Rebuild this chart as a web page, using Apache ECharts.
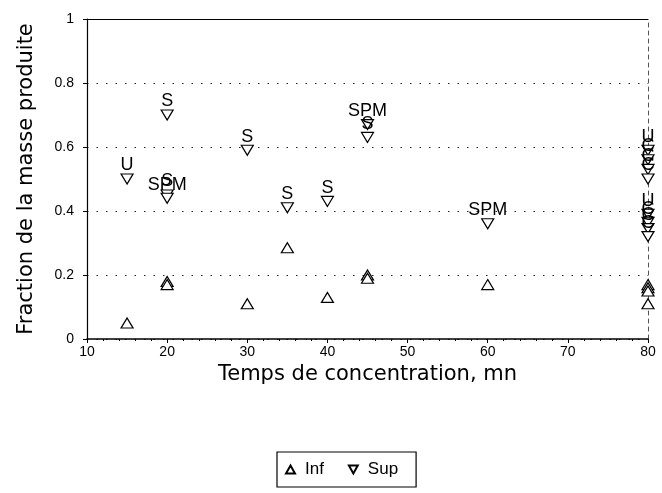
<!DOCTYPE html>
<html>
<head>
<meta charset="utf-8">
<script src="https://cdn.jsdelivr.net/npm/echarts@6/dist/echarts.min.js"></script>
<style>
html,body{margin:0;padding:0;background:#fff;}
#c{width:662px;height:493px;}
</style>
</head>
<body>
<div id="c"></div>
<script>
// Inf (up triangles)
const infX = [15, 20, 20, 30, 35, 40, 45, 45, 60, 80, 80, 80, 80];
const infY = [0.05, 0.18, 0.17, 0.11, 0.285, 0.13, 0.20, 0.19, 0.17, 0.17, 0.16, 0.15, 0.11];
// Sup (down triangles) with labels
const supX = [15, 20, 20, 20, 30, 35, 40, 45, 45, 60, 80, 80, 80, 80, 80, 80, 80, 80];
const supY = [0.50, 0.70, 0.45, 0.44, 0.59, 0.41, 0.43, 0.67, 0.63, 0.36, 0.59, 0.56, 0.53, 0.50, 0.39, 0.365, 0.345, 0.32];
const supLabels = ['U', 'S', 'S', 'SPM', 'S', 'S', 'S', 'SPM', 'S', 'SPM', 'U', 'C', 'C', 'C', 'U', 'C', 'C', 'C'];
const xTicks = [10, 20, 30, 40, 50, 60, 70, 80];
const yTicks = [0, 0.2, 0.4, 0.6, 0.8, 1];

const FONT = 'Liberation Sans, Arial, sans-serif';
const TITLE_FONT = 'DejaVu Sans, sans-serif';
const infData = infX.map((x, i) => [x, infY[i]]);
const supData = supX.map((x, i) => ({ value: [x, supY[i]], name: supLabels[i] }));
const downTri = 'path://M0,0 L10,0 L5,9 Z';

const chart = echarts.init(document.getElementById('c'));
chart.setOption({
  animation: false,
  backgroundColor: '#fff',
  textStyle: { fontFamily: FONT, color: '#000' },
  grid: { left: 87, right: 14, top: 19, bottom: 154, containLabel: false },
  xAxis: [{
    type: 'value', min: xTicks[0], max: xTicks[xTicks.length - 1], interval: 10,
    name: 'Temps de concentration, mn', nameLocation: 'middle', nameGap: 20,
    nameTextStyle: { fontSize: 21, color: '#000', fontFamily: TITLE_FONT },
    axisLine: { lineStyle: { color: '#000', width: 1.5 } },
    axisTick: { show: true, inside: false, length: 4, lineStyle: { color: '#000' } },
    minorTick: { show: true, splitNumber: 5, length: 2, lineStyle: { color: '#000' } },
    axisLabel: { fontSize: 14, color: '#000', margin: 6, fontFamily: FONT },
    splitLine: { show: false }
  }, {
    type: 'value', position: 'top', min: 10, max: 80,
    axisLine: { show: true, onZero: false, lineStyle: { color: '#000', width: 1.2 } },
    axisTick: { show: false }, axisLabel: { show: false }, splitLine: { show: false }
  }],
  yAxis: [{
    type: 'value', min: yTicks[0], max: yTicks[yTicks.length - 1], interval: 0.2,
    name: 'Fraction de la masse produite', nameLocation: 'middle', nameGap: 50,
    nameTextStyle: { fontSize: 21, color: '#000', fontFamily: TITLE_FONT },
    axisLine: { show: true, lineStyle: { color: '#000', width: 1.2 } },
    axisTick: { show: true, length: 4, lineStyle: { color: '#000' } },
    axisLabel: { fontSize: 14, color: '#000', margin: 13, fontFamily: FONT },
    splitLine: { show: true, lineStyle: { color: '#222', type: [1.5, 8], width: 1.2 } }
  }, {
    type: 'value', position: 'right', min: 0, max: 1,
    axisLine: { show: true, onZero: false, lineStyle: { color: '#555', type: [4, 4], width: 1 } },
    axisTick: { show: false }, axisLabel: { show: false }, splitLine: { show: false }
  }],
  legend: {
    left: 277, top: 452,
    orient: 'horizontal',
    borderColor: '#000', borderWidth: 1.2,
    padding: [9, 18, 9, 8],
    itemGap: 24, itemWidth: 9, itemHeight: 8,
    textStyle: { fontSize: 17, color: '#000', fontFamily: FONT, padding: [0, 0, 0, 5] },
    data: [
      { name: 'Inf', icon: 'triangle' },
      { name: 'Sup', icon: downTri }
    ]
  },
  series: [{
    name: 'Inf', type: 'scatter', symbol: 'triangle', symbolSize: [12, 10],
    itemStyle: { color: '#fff', borderColor: '#000', borderWidth: 1.2, opacity: 1 },
    data: infData, z: 3
  }, {
    name: 'Sup', type: 'scatter', symbol: 'triangle', symbolRotate: 180, symbolSize: [12, 10],
    itemStyle: { color: '#fff', borderColor: '#000', borderWidth: 1.2, opacity: 1 },
    label: {
      show: true, position: 'top', distance: -1,
      formatter: p => p.name,
      fontSize: 18, color: '#000', fontFamily: FONT
    },
    labelLayout: { hideOverlap: false },
    data: supData, z: 4
  }]
});
</script>
</body>
</html>
